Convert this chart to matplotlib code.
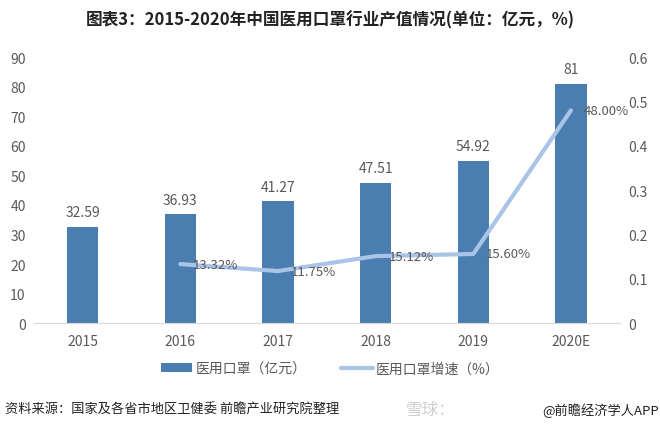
import matplotlib.pyplot as plt
import numpy as np

plt.rcParams['font.family'] = ['Noto Sans CJK SC', 'DejaVu Sans']

years = ["2015", "2016", "2017", "2018", "2019", "2020E"]
output_value = [32.59, 36.93, 41.27, 47.51, 54.92, 81]
growth_years = ["2016", "2017", "2018", "2019", "2020E"]
growth_rate = [0.1332, 0.1175, 0.1512, 0.1560, 0.48]
growth_labels = ["13.32%", "11.75%", "15.12%", "15.60%", "48.00%"]

bar_color = '#4a7eb0'
line_color = '#a9c4e6'
text_color = '#595959'

fig = plt.figure(figsize=(6.6, 4.31), dpi=100)
ax = fig.add_axes([0.0515, 0.248, 0.8875, 0.617])
ax2 = ax.twinx()

x = np.arange(len(years))
ax.bar(x, output_value, width=0.32, color=bar_color, label="医用口罩（亿元）", zorder=2)
for xi, v in zip(x, output_value):
    ax.text(xi, v + 2.5, f"{v:g}", ha='center', va='bottom', fontsize=10, color=text_color)

gx = [years.index(y) for y in growth_years]
ax2.plot(gx, growth_rate, color=line_color, lw=3, solid_capstyle='round', label="医用口罩增速（%）", zorder=3)
for xi, v, s in zip(gx, growth_rate, growth_labels):
    ax2.text(xi + 0.13, v, s, ha='left', va='center', fontsize=9.5, color=text_color)

ax.set_xlim(-0.5, 5.5)
ax.set_ylim(0, 90)
ax.set_yticks(range(0, 91, 10))
ax2.set_ylim(0, 0.6)
ax2.set_yticks(np.arange(0, 0.61, 0.1))
ax2.set_yticklabels(["0", "0.1", "0.2", "0.3", "0.4", "0.5", "0.6"])
ax.set_xticks(x)
ax.set_xticklabels(years)

for a in (ax, ax2):
    for s in a.spines.values():
        s.set_visible(False)
    a.tick_params(length=0, labelsize=10, colors=text_color)
ax.spines['bottom'].set_visible(True)
ax.spines['bottom'].set_color('#d9d9d9')
ax.tick_params(axis='x', pad=8)
ax.tick_params(axis='y', pad=6)
ax2.tick_params(axis='y', pad=6)

h1, l1 = ax.get_legend_handles_labels()
h2, l2 = ax2.get_legend_handles_labels()
fig.legend(h1 + h2, l1 + l2, loc='center', bbox_to_anchor=(0.5, 0.142), ncol=2, frameon=False,
           fontsize=10, labelcolor=text_color, handlelength=2.3, handleheight=0.6,
           columnspacing=2.5, handletextpad=0.2)

fig.text(0.5, 0.953, "图表3：2015-2020年中国医用口罩行业产值情况(单位：亿元，%)", ha='center', va='center',
         fontsize=12, fontweight='bold', color='#222222')
fig.text(0.008, 0.048, "资料来源：国家及各省市地区卫健委 前瞻产业研究院整理", ha='left', va='center',
         fontsize=9.5, color='#222222')
fig.text(0.615, 0.048, "雪球：", ha='left', va='center', fontsize=12, color='#d0d0d0')
fig.text(0.998, 0.048, "@前瞻经济学人APP", ha='right', va='center', fontsize=9.5, color='#222222')

fig.savefig("out.png", dpi=100)
